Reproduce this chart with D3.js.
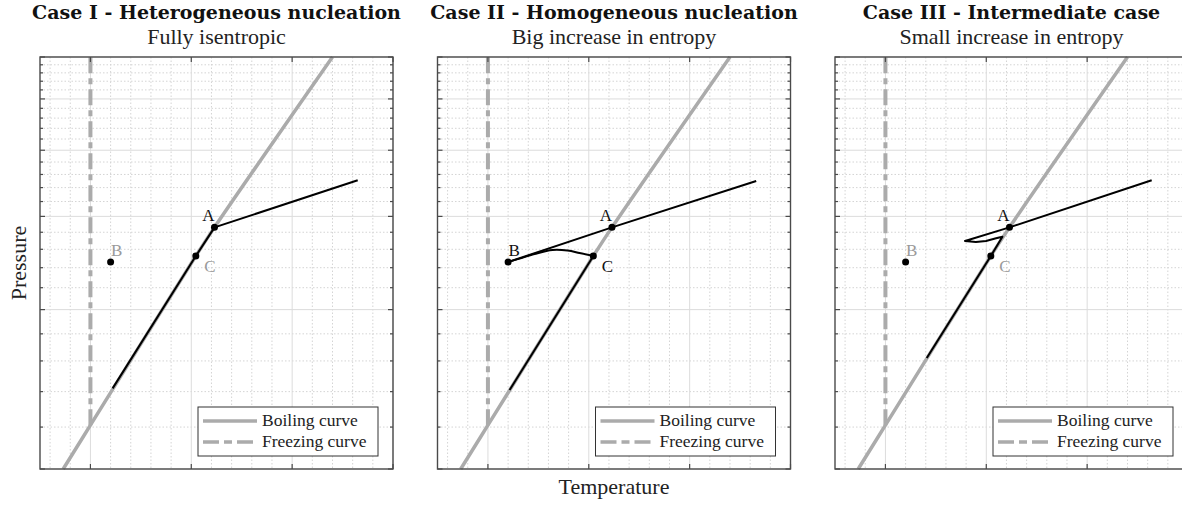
<!DOCTYPE html>
<html>
<head>
<meta charset="utf-8">
<script src="https://cdn.jsdelivr.net/npm/d3@7"></script>
<style>
  body { margin: 0; background: #fff; }
  text { font-family: "Liberation Serif", serif; }
</style>
</head>
<body>
<svg id="svg"></svg>
<script>
// panel texts
const TITLES = ["Case I - Heterogeneous nucleation", "Case II - Homogeneous nucleation", "Case III - Intermediate case"];
const SUBTITLES = ["Fully isentropic", "Big increase in entropy", "Small increase in entropy"];

// axis ticks (temperature linear, pressure log)
const T_MAJOR = [0, 1, 2, 3];
const T_MINOR = [-0.4, -0.2, 0.2, 0.4, 0.6, 0.8, 1.2, 1.4, 1.6, 1.8, 2.2, 2.4, 2.6, 2.8];
const P_MAJOR = [1, 2, 3, 4, 5, 6];
const P_MINOR = [1.2, 1.4, 1.6, 1.8, 2.2, 2.4, 2.6, 2.8, 3.2, 3.4, 3.6, 3.8, 4.2, 4.4, 4.6, 4.8, 5.2, 5.4, 5.6, 5.8];

// phase curves
const BOIL_T = [-0.27, 0, 1.045, 1.23, 2.40];
const BOIL_P = [1, 1.21, 2.525, 2.86, 6];
const FREEZE_T = [0, 0];
const FREEZE_P = [1.21, 6];

// states
const POINT_NAMES = ["A", "B", "C"];
const POINT_T = [1.23, 0.2, 1.045];
const POINT_P = [2.86, 2.46, 2.525];

// process paths, one list per case (a case may have several pieces)
const PATH_T = [
  [[2.65, 1.23, 1.045, 0.22]],
  [[2.66, 1.23, 0.2], [0.2, 0.313, 0.462, 0.64, 0.789, 0.908, 1.045], [1.045, 0.215]],
  [[2.64, 1.23, 0.789, 0.897, 0.997, 1.097, 1.16, 1.045, 0.41]]
];
const PATH_P = [
  [[3.51, 2.86, 2.525, 1.42]],
  [[3.50, 2.86, 2.46], [2.46, 2.497, 2.547, 2.592, 2.586, 2.559, 2.525], [2.525, 1.41]],
  [[3.51, 2.86, 2.696, 2.684, 2.696, 2.727, 2.746, 2.525, 1.62]]
];
const PATH_SMOOTH = [[false], [false, true, false], [false]];
// which point labels are drawn in gray
const LABEL_GRAY = [[false, true, true], [false, false, false], [false, true, true]];

const LEGEND = ["Boiling curve", "Freezing curve"];

var W = 1182, H = 508;
var lefts = [40, 437.5, 835], y0 = 57, pw = 353, ph = 412;
var gray = "#ababab";

var svg = d3.select("#svg").attr("width", W).attr("height", H);
svg.append("rect").attr("width", W).attr("height", H).attr("fill", "#fff");

lefts.forEach(function(left, i) {
  var x = d3.scaleLinear().domain([-0.5, 3]).range([left, left + pw]);
  var y = d3.scaleLog().domain([1, 6]).range([y0 + ph, y0]);
  var g = svg.append("g");

  // grid
  g.selectAll(".vmin").data(T_MINOR).join("line")
      .attr("x1", d => x(d)).attr("x2", d => x(d)).attr("y1", y0).attr("y2", y0 + ph)
      .attr("stroke", "#d4d4d4").attr("stroke-dasharray", "1.5,2").attr("stroke-width", 1);
  g.selectAll(".hmin").data(P_MINOR).join("line")
      .attr("y1", d => y(d)).attr("y2", d => y(d)).attr("x1", left).attr("x2", left + pw)
      .attr("stroke", "#d4d4d4").attr("stroke-dasharray", "1.5,2").attr("stroke-width", 1);
  g.selectAll(".vmaj").data(T_MAJOR).join("line")
      .attr("x1", d => x(d)).attr("x2", d => x(d)).attr("y1", y0).attr("y2", y0 + ph)
      .attr("stroke", "#dcdcdc").attr("stroke-width", 1);
  g.selectAll(".hmaj").data(P_MAJOR).join("line")
      .attr("y1", d => y(d)).attr("y2", d => y(d)).attr("x1", left).attr("x2", left + pw)
      .attr("stroke", "#dcdcdc").attr("stroke-width", 1);

  var line = d3.line().x(d => x(d[0])).y(d => y(d[1]));
  var smooth = d3.line().x(d => x(d[0])).y(d => y(d[1])).curve(d3.curveCatmullRom);

  // boiling and freezing curves
  g.append("path").datum(d3.zip(BOIL_T, BOIL_P))
      .attr("d", smooth).attr("fill", "none").attr("stroke", gray).attr("stroke-width", 3.5);
  g.append("path").datum(d3.zip(FREEZE_T, FREEZE_P))
      .attr("d", line).attr("fill", "none").attr("stroke", gray).attr("stroke-width", 4)
      .attr("stroke-dasharray", "16,5,6,5");

  // process
  PATH_T[i].forEach(function(ts, k) {
    g.append("path").datum(d3.zip(ts, PATH_P[i][k]))
        .attr("d", PATH_SMOOTH[i][k] ? smooth : line).attr("fill", "none")
        .attr("stroke", "#000").attr("stroke-width", 2).attr("stroke-linejoin", "round");
  });

  // points
  POINT_NAMES.forEach(function(name, k) {
    var px = x(POINT_T[k]), py = y(POINT_P[k]);
    g.append("circle").attr("cx", px).attr("cy", py).attr("r", 3.5).attr("fill", "#000");
    var off = name == "A" ? [-6, -6] : name == "B" ? [6, -6] : [14, 16];
    g.append("text").attr("x", px + off[0]).attr("y", py + off[1])
        .attr("text-anchor", "middle").attr("font-size", 17)
        .attr("fill", LABEL_GRAY[i][k] ? "#9a9a9a" : "#111").text(name);
  });

  // box and ticks
  g.append("rect").attr("x", left).attr("y", y0).attr("width", pw).attr("height", ph)
      .attr("fill", "none").attr("stroke", "#4a4a4a").attr("stroke-width", 1.4);
  var tk = g.append("g").attr("stroke", "#4a4a4a").attr("stroke-width", 1.2);
  T_MAJOR.forEach(function(d) {
    tk.append("line").attr("x1", x(d)).attr("x2", x(d)).attr("y1", y0 + ph).attr("y2", y0 + ph - 5);
    tk.append("line").attr("x1", x(d)).attr("x2", x(d)).attr("y1", y0).attr("y2", y0 + 5);
  });
  P_MAJOR.forEach(function(d) {
    tk.append("line").attr("y1", y(d)).attr("y2", y(d)).attr("x1", left).attr("x2", left + 5);
    tk.append("line").attr("y1", y(d)).attr("y2", y(d)).attr("x1", left + pw).attr("x2", left + pw - 5);
  });
  P_MINOR.forEach(function(d) {
    tk.append("line").attr("y1", y(d)).attr("y2", y(d)).attr("x1", left).attr("x2", left + 3);
    tk.append("line").attr("y1", y(d)).attr("y2", y(d)).attr("x1", left + pw).attr("x2", left + pw - 3);
  });

  // legend
  var lg = g.append("g").attr("transform", "translate(" + (left + 158) + ",407)");
  lg.append("rect").attr("width", 180).attr("height", 49)
      .attr("fill", "#fff").attr("stroke", "#333").attr("stroke-width", 1);
  LEGEND.forEach(function(name, k) {
    var ly = 14 + k * 21;
    lg.append("line").attr("x1", 5).attr("x2", 59).attr("y1", ly).attr("y2", ly)
        .attr("stroke", gray).attr("stroke-width", 3.5)
        .attr("stroke-dasharray", k ? "16,5,8,5" : null);
    lg.append("text").attr("x", 64).attr("y", ly + 5).attr("font-size", 17.5)
        .attr("fill", "#222").text(name);
  });

  // titles
  svg.append("text").attr("x", left + pw / 2).attr("y", 19).attr("text-anchor", "middle")
      .style("font-family", "'DejaVu Serif', serif").attr("font-weight", "bold")
      .attr("font-size", 19).attr("fill", "#111").text(TITLES[i]);
  svg.append("text").attr("x", left + pw / 2).attr("y", 44).attr("text-anchor", "middle")
      .attr("font-size", 22).attr("fill", "#222").text(SUBTITLES[i]);
});

svg.append("text").attr("transform", "translate(26,263) rotate(-90)")
    .attr("text-anchor", "middle").attr("font-size", 22).attr("fill", "#222").text("Pressure");
svg.append("text").attr("x", 614).attr("y", 494).attr("text-anchor", "middle")
    .attr("font-size", 22).attr("fill", "#222").text("Temperature");
</script>
</body>
</html>
